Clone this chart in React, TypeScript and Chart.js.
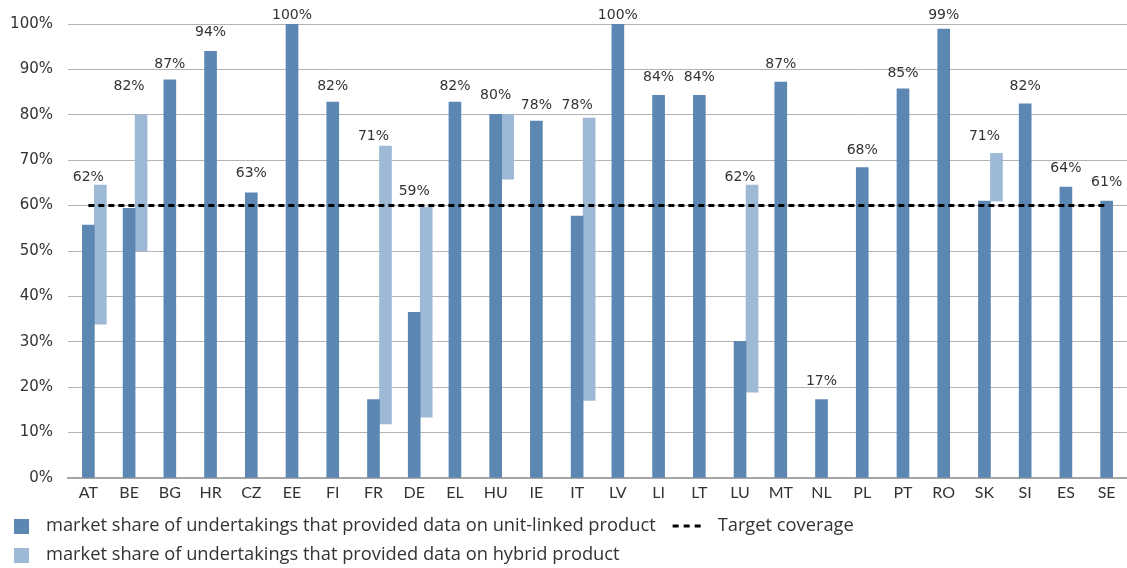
import React, { useEffect, useRef } from "react";
import { Chart, registerables } from "chart.js";

Chart.register(...registerables);

// Countries on the category axis
const categories = [
  "AT", "BE", "BG", "HR", "CZ", "EE", "FI", "FR", "DE", "EL", "HU", "IE", "IT",
  "LV", "LI", "LT", "LU", "MT", "NL", "PL", "PT", "RO", "SK", "SI", "ES", "SE",
];

// Market share (%) of undertakings reporting unit-linked products
const unitLinked = [
  55.7, 59.4, 87.7, 94.0, 62.8, 100, 82.8, 17.3, 36.5, 82.8, 80.1, 78.6, 57.7,
  100, 84.3, 84.3, 30.1, 87.2, 17.3, 68.4, 85.7, 98.9, 61.0, 82.4, 64.1, 61.0,
];

// Hybrid products: floating range (low / high), null where not reported
const hybridLow = [
  33.9, 50.0, null, null, null, null, null, 11.9, 13.4, null, 65.8, null, 17.1,
  null, null, null, 18.9, null, null, null, null, null, 61.0, null, null, null,
];
const hybridHigh = [
  64.5, 80.0, null, null, null, null, null, 73.1, 59.6, null, 80.1, null, 79.3,
  null, null, null, 64.5, null, null, null, null, null, 71.5, null, null, null,
];

// Overall coverage printed above each country
const coverageLabels = [
  62, 82, 87, 94, 63, 100, 82, 71, 59, 82, 80, 78, 78,
  100, 84, 84, 62, 87, 17, 68, 85, 99, 71, 82, 64, 61,
];

const targetCoverage = 60;

const DARK = "#5b87b2";
const LIGHT = "#9eb9d6";
const TEXT = "#333333";
const NUM_FONT = "'DejaVu Sans', sans-serif";
const LBL_FONT = "Lato, 'Noto Sans', sans-serif";
const LEGEND_FONT = "'Open Sans', 'Noto Sans', sans-serif";

const coverageLabelPlugin = {
  id: "coverageLabels",
  afterDatasetsDraw(chart: any) {
    const { ctx, scales } = chart;
    const x = scales.x;
    const y = scales.y;
    ctx.save();
    ctx.font = `14px ${NUM_FONT}`;
    ctx.fillStyle = TEXT;
    ctx.textAlign = "center";
    ctx.textBaseline = "middle";
    coverageLabels.forEach((v, i) => {
      const px = x.getPixelForValue(i);
      const py = Math.max(y.getPixelForValue(v) - 19, 15);
      ctx.fillText(`${v}%`, px, py);
    });
    ctx.restore();
  },
};

const legendPlugin = {
  id: "bottomLegend",
  afterDraw(chart: any) {
    const ctx = chart.ctx;
    ctx.save();
    ctx.font = `18.3px ${LEGEND_FONT}`;
    ctx.fillStyle = TEXT;
    ctx.textAlign = "left";
    ctx.textBaseline = "middle";

    const rows = [
      { y: 526, color: DARK, text: "market share of undertakings that provided data on unit-linked product" },
      { y: 555, color: LIGHT, text: "market share of undertakings that provided data on hybrid product" },
    ];
    rows.forEach((r) => {
      ctx.fillStyle = r.color;
      ctx.fillRect(14, r.y - 7, 15, 15);
      ctx.fillStyle = TEXT;
      ctx.fillText(r.text, 46, r.y);
    });

    const w1 = ctx.measureText(rows[0].text).width;
    const lx = 46 + w1 + 17;
    ctx.strokeStyle = "#000";
    ctx.lineWidth = 3;
    ctx.setLineDash([6, 5]);
    ctx.beginPath();
    ctx.moveTo(lx, rows[0].y);
    ctx.lineTo(lx + 28, rows[0].y);
    ctx.stroke();
    ctx.setLineDash([]);
    ctx.fillText("Target coverage", lx + 45, rows[0].y);
    ctx.restore();
  },
};

export default function App() {
  const ref = useRef<HTMLCanvasElement | null>(null);

  useEffect(() => {
    if (!ref.current) return;
    const hybrid = hybridLow.map((lo, i) =>
      lo === null || hybridHigh[i] === null ? null : [lo, hybridHigh[i]]
    );
    const chart = new Chart(ref.current, {
      type: "bar",
      data: {
        labels: categories,
        datasets: [
          {
            type: "line",
            label: "Target coverage",
            data: categories.map(() => targetCoverage),
            borderColor: "#000",
            borderWidth: 3,
            borderDash: [6, 4],
            pointRadius: 0,
            fill: false,
            order: 0,
          } as any,
          {
            label: "",
            data: categories.map(() => null),
            backgroundColor: "rgba(0,0,0,0)",
            order: 1,
          },
          {
            label: "market share of undertakings that provided data on unit-linked product",
            data: unitLinked,
            backgroundColor: DARK,
            order: 1,
          },
          {
            label: "market share of undertakings that provided data on hybrid product",
            data: hybrid as any,
            backgroundColor: LIGHT,
            order: 1,
          },
        ],
      },
      options: {
        animation: false,
        responsive: true,
        maintainAspectRatio: false,
        datasets: { bar: { barThickness: 12 } } as any,
        layout: { padding: { top: 24, left: 9, right: 0, bottom: 60 } },
        plugins: {
          legend: { display: false },
          tooltip: { enabled: false },
        },
        scales: {
          x: {
            grid: { display: false, drawTicks: false },
            border: { color: "#a6a6a6", width: 2 },
            ticks: {
              color: TEXT,
              font: { family: LBL_FONT, size: 16 },
              padding: 5,
              maxRotation: 0,
              autoSkip: false,
            },
            afterFit: (s: any) => {
              s.height = 30;
            },
          },
          y: {
            min: 0,
            max: 100,
            grid: { color: "#b3b3b3", lineWidth: 1, drawTicks: false },
            border: { display: false },
            ticks: {
              stepSize: 10,
              color: TEXT,
              font: { family: NUM_FONT, size: 15 },
              padding: 15,
              callback: (v: any) => `${v}%`,
            },
            afterFit: (s: any) => {
              s.width = 59;
            },
          },
        },
      },
      plugins: [coverageLabelPlugin, legendPlugin],
    });
    return () => chart.destroy();
  }, []);

  return (
    <div style={{ position: "fixed", left: 0, top: 0, width: 1127, height: 568, background: "#fff" }}>
      <canvas ref={ref} />
    </div>
  );
}
